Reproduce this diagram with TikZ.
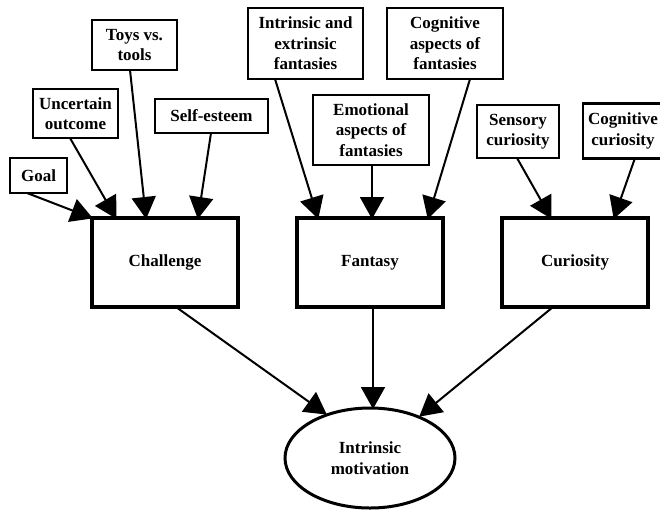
\documentclass[tikz,border=0pt]{standalone}
\usepackage{fontspec}
\setmainfont{Liberation Serif}
\usetikzlibrary{arrows.meta,shapes.geometric}
\begin{document}
\begin{tikzpicture}[x=1pt,y=-1pt,
  every node/.style={font=\fontsize{17}{20.5}\selectfont\bfseries, align=center, inner sep=0pt},
  small/.style={draw, line width=2.2pt, rectangle},
  big/.style={draw, line width=3.4pt, rectangle},
  arr/.style={line width=2pt, -{Triangle[length=22pt,width=24pt]}, shorten >=-1pt}]
\useasboundingbox (0,0) rectangle (660,509);
\begin{scope}
\clip (0,0) rectangle (660,509);
% leaves
\node[small, minimum width=57, minimum height=35] (goal) at (38.5,175.5) {Goal};
\node[small, minimum width=85, minimum height=49] (unc) at (75.5,113.5) {Uncertain\\outcome};
\node[small, minimum width=85, minimum height=50] (toys) at (134.5,45) {Toys vs.\\tools};
\node[small, minimum width=113, minimum height=34] (self) at (211.5,116) {Self-esteem};
\node[small, minimum width=115, minimum height=71] (ief) at (305.5,43.5) {Intrinsic and\\extrinsic\\fantasies};
\node[small, minimum width=116, minimum height=71] (cogf) at (445,43.5) {Cognitive\\aspects of\\fantasies};
\node[small, minimum width=116, minimum height=70] (emo) at (371,130) {Emotional\\aspects of\\fantasies};
\node[small, minimum width=82, minimum height=53] (sens) at (518,131.5) {Sensory\\curiosity};
\node[small, minimum width=80, minimum height=55] (cogc) at (623,131) {Cognitive\\curiosity};
% main boxes
\node[big, minimum width=146, minimum height=89] (chal) at (165,262.5) {Challenge};
\node[big, minimum width=146, minimum height=89] (fant) at (370,262.5) {Fantasy};
\node[big, minimum width=146, minimum height=89] (curi) at (575,262.5) {Curiosity};
\node[draw, ellipse, line width=3pt, minimum width=170, minimum height=100] (im) at (370,458) {Intrinsic\\motivation};
% helper points
\coordinate (c1) at (92,218);
\coordinate (c2) at (116,218);
\coordinate (c3) at (146,218);
\coordinate (c4) at (198,218);
\coordinate (f1) at (318,218);
\coordinate (f2) at (372,218);
\coordinate (f3) at (428,218);
\coordinate (u1) at (551,218);
\coordinate (u2) at (614,218);
\coordinate (s1) at (27,193);
\coordinate (s2) at (70,138);
\coordinate (s3) at (130,70);
\coordinate (s4) at (211,133);
\coordinate (s5) at (275,79);
\coordinate (s6) at (372,165);
\coordinate (s7) at (470,79);
\coordinate (s8) at (517,158);
\coordinate (s9) at (635,158);
\coordinate (b1) at (176,307);
\coordinate (b2) at (373,307);
\coordinate (b3) at (553,307);
\coordinate (e1) at (326,414);
\coordinate (e2) at (373,408);
\coordinate (e3) at (420,416);
\draw[arr] (s1) -- (c1);
\draw[arr] (s2) -- (c2);
\draw[arr] (s3) -- (c3);
\draw[arr] (s4) -- (c4);
\draw[arr] (s5) -- (f1);
\draw[arr] (s6) -- (f2);
\draw[arr] (s7) -- (f3);
\draw[arr] (s8) -- (u1);
\draw[arr] (s9) -- (u2);
\draw[arr] (b1) -- (e1);
\draw[arr] (b2) -- (e2);
\draw[arr] (b3) -- (e3);
\end{scope}
\end{tikzpicture}
\end{document}
